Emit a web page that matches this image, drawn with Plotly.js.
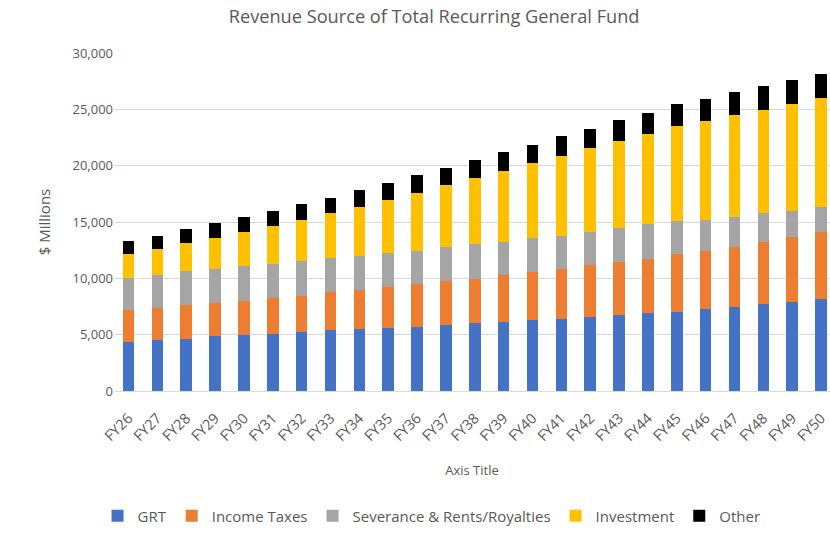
<!DOCTYPE html>
<html>
<head>
<meta charset="utf-8">
<script src="https://cdn.plot.ly/plotly-3.0.1.min.js"></script>
<style>html,body{margin:0;padding:0;background:#fff;}#chart{width:830px;height:533px;}</style>
</head>
<body>
<div id="chart"></div>
<script>
const categories = ["FY26","FY27","FY28","FY29","FY30","FY31","FY32","FY33","FY34","FY35","FY36","FY37","FY38","FY39","FY40","FY41","FY42","FY43","FY44","FY45","FY46","FY47","FY48","FY49","FY50"];
const grt = [4310,4520,4630,4840,4960,5070,5280,5400,5480,5600,5720,5840,6040,6160,6280,6360,6600,6720,6920,7040,7240,7480,7690,7920,8130];
const incomeTaxes = [2850,2870,2970,2960,3050,3170,3170,3400,3500,3610,3790,3930,3930,4170,4250,4490,4580,4750,4810,5130,5220,5340,5570,5780,5980];
const severance = [2900,2940,3020,3050,3050,3050,3050,3020,3040,3050,2950,3050,3060,2930,3030,2910,2930,2970,3060,2910,2730,2610,2500,2290,2200];
const investment = [2070,2240,2500,2710,3050,3380,3690,3940,4350,4690,5150,5430,5860,6310,6690,7130,7420,7740,8040,8420,8750,9040,9150,9450,9660];
const other = [1220,1220,1230,1320,1290,1290,1450,1340,1460,1540,1520,1560,1650,1640,1610,1760,1740,1850,1870,1970,1940,2080,2200,2200,2200];
const seriesNames = ["GRT","Income Taxes","Severance & Rents/Royalties","Investment","Other"];
const seriesColors = ["#4472C4","#ED7D31","#A5A5A5","#FFC000","#000000"];
const seriesData = [grt, incomeTaxes, severance, investment, other];

const FONT = "Open Sans, sans-serif";
const traces = seriesData.map((vals, i) => ({
  type: "bar",
  name: seriesNames[i],
  x: categories,
  y: vals,
  marker: {color: seriesColors[i]}
}));

const layout = {
  width: 830, height: 533,
  margin: {l: 113.6, r: 0, t: 53, b: 139.7},
  barmode: "stack",
  bargap: 0.6,
  paper_bgcolor: "#fff", plot_bgcolor: "#fff",
  font: {family: FONT, color: "#595959", size: 13},
  title: {text: "Revenue Source of Total Recurring General Fund", font: {family: FONT, size: 18.2, color: "#595959"},
          x: 0.523, xref: "container", xanchor: "center", y: 0.968, yref: "container", yanchor: "middle"},
  xaxis: {
    type: "category",
    range: [-0.5, 24.31],
    tickangle: -45,
    tickfont: {family: FONT, size: 14.5, color: "#595959"},
    showgrid: false,
    showline: true, linecolor: "#d9d9d9", linewidth: 1,
    ticks: "outside", ticklen: 12, tickcolor: "rgba(0,0,0,0)",
    title: {text: "Axis Title", font: {family: FONT, size: 13, color: "#595959"}, standoff: 22}
  },
  yaxis: {
    range: [0, 30000],
    tickvals: [0,5000,10000,15000,20000,25000,30000],
    tickformat: ",d",
    tickfont: {family: FONT, size: 13, color: "#595959"},
    showgrid: true, gridcolor: "#d9d9d9", gridwidth: 1,
    zeroline: false, showline: false, ticks: "",
    ticklen: 0,
    title: {text: "$ Millions", font: {family: FONT, size: 15, color: "#595959"}, standoff: 18}
  },
  showlegend: true,
  legend: {
    orientation: "h", x: -0.023, xanchor: "left", y: -0.37, yanchor: "middle",
    font: {family: FONT, size: 15, color: "#595959"},
    traceorder: "normal",
    itemwidth: 30
  }
};
Plotly.newPlot("chart", traces, layout, {displayModeBar: false, staticPlot: true});
</script>
</body>
</html>
